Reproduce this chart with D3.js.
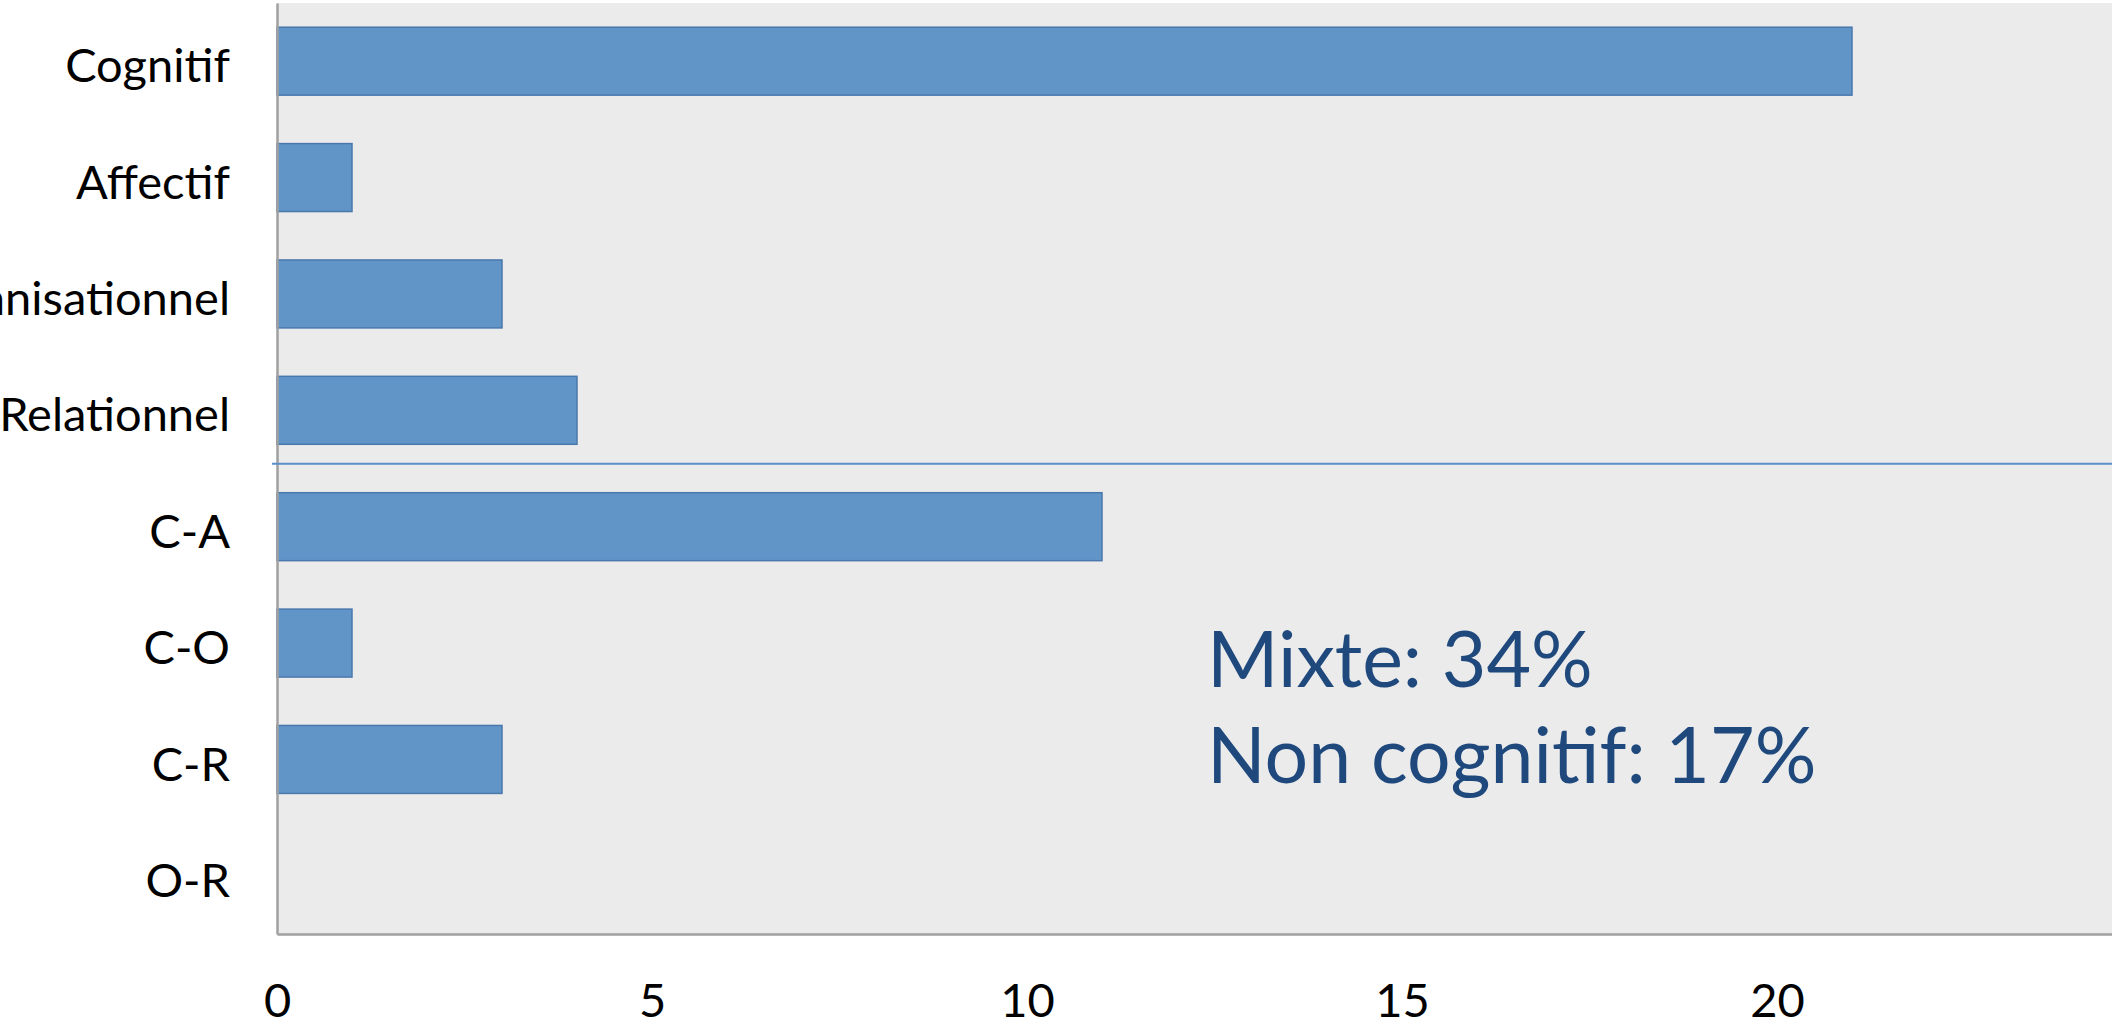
<!DOCTYPE html>
<html>
<head>
<meta charset="utf-8">
<script src="https://cdn.jsdelivr.net/npm/d3@7"></script>
<style>
  body { margin: 0; background: #fff; }
  text { font-family: Lato, "Open Sans", sans-serif; }
</style>
</head>
<body>
<div id="chart"></div>
<script>
// data
var categories = ["Cognitif", "Affectif", "Organisationnel", "Relationnel", "C-A", "C-O", "C-R", "O-R"];
var counts = [21, 1, 3, 4, 11, 1, 3, 0];
var xTicks = [0, 5, 10, 15, 20];
var notes = ["Mixte: 34%", "Non cognitif: 17%"];

var chartData = categories.map(function(c, i) {
  return { cat: c, value: counts[i] };
});

// sizing
var svgWidth = 2112;
var svgHeight = 1029;
var margin = { top: 3, right: -40, bottom: 95, left: 277 };
var width = svgWidth - margin.left - margin.right;
var height = svgHeight - margin.top - margin.bottom;

var svg = d3.select("#chart")
  .append("svg")
  .attr("width", svgWidth)
  .attr("height", svgHeight)
  .style("display", "block");

var chartGroup = svg.append("g")
  .attr("transform", `translate(${margin.left}, ${margin.top})`);

// scales
var xLinearScale = d3.scaleLinear()
  .domain([0, 25])
  .range([0, width]);

var yBandScale = d3.scaleBand()
  .domain(categories)
  .range([0, height])
  .paddingInner(0.416)
  .paddingOuter(0.208);

// plot background
chartGroup.append("rect")
  .attr("x", 0)
  .attr("y", 0)
  .attr("width", width)
  .attr("height", height)
  .attr("fill", "#ebebeb");

// bars
chartGroup.selectAll(".bar")
  .data(chartData.filter(d => d.value > 0))
  .enter()
  .append("rect")
  .attr("class", "bar")
  .attr("x", 0)
  .attr("y", d => yBandScale(d.cat))
  .attr("width", d => xLinearScale(d.value))
  .attr("height", yBandScale.bandwidth())
  .attr("fill", "#6195c8")
  .attr("stroke", "#4a78ac")
  .attr("stroke-width", 1.5);

// axes
var bottomAxis = d3.axisBottom(xLinearScale)
  .tickValues(xTicks)
  .tickSize(0)
  .tickPadding(50);
var leftAxis = d3.axisLeft(yBandScale)
  .tickSize(0)
  .tickPadding(47);

var xAxisG = chartGroup.append("g")
  .attr("transform", `translate(0, ${height})`)
  .call(bottomAxis);

var yAxisG = chartGroup.append("g")
  .call(leftAxis);

[xAxisG, yAxisG].forEach(function(g) {
  g.select(".domain")
    .attr("stroke", "#a0a0a0")
    .attr("stroke-width", 2.5);
  g.selectAll("text")
    .style("font-size", "47px")
    .style("fill", "#000");
});
yAxisG.selectAll("text").attr("dy", "0.45em");

// separator between single and mixed categories
var sepY = yBandScale("Relationnel") + yBandScale.bandwidth()
  + yBandScale.step() * yBandScale.paddingInner() * 0.4;
chartGroup.append("line")
  .attr("x1", -5)
  .attr("x2", width)
  .attr("y1", sepY)
  .attr("y2", sepY)
  .attr("stroke", "#5b8fcb")
  .attr("stroke-width", 2);

// annotation
chartGroup.append("g")
  .selectAll("text")
  .data(notes)
  .enter()
  .append("text")
  .attr("x", xLinearScale(12.4))
  .attr("y", (d, i) => 684 + i * 96)
  .text(d => d)
  .style("font-size", "77px")
  .style("fill", "#1f497d");
</script>
</body>
</html>
